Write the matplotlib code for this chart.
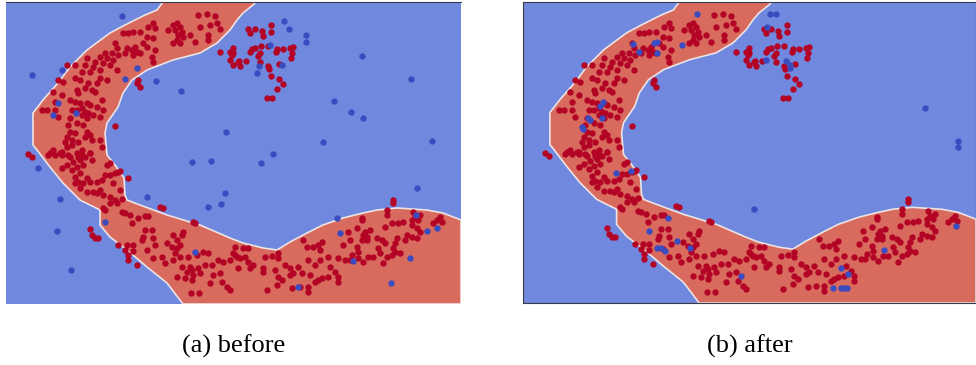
import numpy as np
import matplotlib.pyplot as plt

# boundary of the class-1 region (x, y), y grows downward
region_x = [163, 157, 145, 125, 110, 87, 70, 58, 43, 33, 33, 37, 50, 63, 80, 100, 100, 110, 127, 147, 167, 183,
            461, 461, 443, 427, 397, 377, 363, 343, 323, 307, 290, 277, 263, 243, 230, 200, 167, 140, 127, 125,
            124, 115, 107, 105, 107, 118, 123, 132, 147, 173, 200, 217, 230, 237, 243, 253, 256]
region_y = [2, 10, 15, 25, 33, 50, 67, 83, 100, 113, 145, 150, 167, 183, 200, 210, 225, 237, 250, 267, 283, 304,
            304, 220, 213, 210, 208, 210, 213, 218, 225, 233, 242, 250, 248, 243, 238, 225, 215, 205, 200, 195,
            178, 165, 155, 133, 123, 107, 93, 80, 70, 60, 53, 43, 30, 20, 13, 5, 2]

red_pts = [
    (173,25),(177,23),(180,27),(175,30),(182,32),(178,35),(183,37),(177,40),(180,43),(173,43),(198,15),(207,14),
    (215,16),(210,25),(217,23),(220,29),(200,27),(190,35),(195,42),(208,35),(208,40),(153,23),(148,27),(155,28),
    (168,30),(123,33),(128,33),(133,32),(140,32),(147,37),(153,38),(143,43),(135,47),(132,50),(137,52),(127,48),
    (125,53),(133,55),(140,53),(147,47),(155,50),(152,57),(153,62),(115,43),(117,48),(112,53),(118,55),(105,53),
    (100,57),(107,58),(113,60),(110,65),(117,70),(103,63),(95,62),(93,67),(100,70),(87,58),(85,65),(82,72),
    (90,72),(100,78),(107,80),(97,83),(88,83),(80,80),(75,78),(77,90),(85,88),(92,90),(95,92),(78,93),(67,65),
    (75,65),(58,80),(63,82),(53,92),(62,95),(55,102),(47,110),(42,110),(55,110),(58,117),(70,100),(75,102),
    (80,103),(87,103),(90,105),(82,108),(85,112),(88,113),(93,115),(100,117),(103,110),(97,107),(102,100),
    (77,110),(72,110),(82,115),(87,118),(70,118),(77,123),(68,125),(83,125),(70,132),(75,133),(67,137),(72,140),
    (65,142),(72,145),(67,147),(78,142),(85,137),(90,135),(87,132),(92,140),(100,140),(102,147),(82,150),
    (90,153),(62,152),(53,150),(48,155),(55,155),(62,155),(70,157),(78,157),(85,157),
    (115,126),(138,80),(140,87),(137,83),(28,154),(32,157),
    (220,52),(230,52),(232,55),(233,65),(238,62),(230,60),
    (248,29),(250,33),(255,29),(262,31),(263,36),(271,25),(271,32),(261,46),(268,46),(252,49),(250,52),(255,48),
    (260,53),(258,56),(277,49),(276,52),(283,49),(290,48),(293,47),(292,53),(291,58),(246,61),(239,61),(240,66),
    (260,62),(268,66),(269,69),(279,64),(271,76),(279,79),(283,84),(277,89),(267,98),(272,98),(233,48),(233,53),
    (50,153),(60,153),(68,155),(77,153),(82,155),(90,153),(92,160),(80,160),(73,162),(67,165),(62,168),(77,167),
    (83,165),(72,170),(80,173),(75,177),(87,178),(78,182),(83,183),(90,182),(75,183),(80,188),(87,192),(93,192),
    (97,182),(102,180),(107,165),(110,163),(105,175),(110,175),(115,173),(118,172),(120,171),(128,178),(113,183),
    (120,190),(100,190),(97,193),(103,195),(110,197),(115,200),(122,199),(117,203),(110,203),(103,208),(105,210),
    (122,212),(125,213),(130,215),(138,218),(145,216),(148,216),(132,223),(145,230),(152,230),(143,237),(153,238),
    (142,240),(147,250),(155,245),(160,207),(163,208),(173,235),(177,240),(167,243),(172,247),(177,248),(180,245),
    (183,232),(182,235),(193,222),(195,223),(90,229),(92,235),(95,238),(98,238),(118,245),(127,245),(133,245),
    (125,250),(128,255),(133,251),(128,260),(137,265),(153,258),(162,257),(165,263),(173,260),(175,253),(180,257),
    (188,257),(197,255),(203,252),(208,253),(182,267),(190,267),(192,270),(187,272),(193,275),(198,268),(200,273),
    (205,265),(212,265),(218,260),(223,262),(230,260),(233,253),(237,257),(213,275),(220,273),(210,283),(222,282),
    (227,287),(230,290),(191,293),(199,293),(177,277),(185,278),(192,280),
    (235,247),(243,248),(248,248),(235,255),(240,258),(245,257),(248,262),(253,265),(238,268),(250,268),
    (263,268),(265,257),(272,256),(278,253),(278,258),(263,272),(275,270),(285,265),(290,268),(293,273),(298,267),
    (302,273),(290,275),(278,277),(282,280),(277,285),(292,288),(300,287),(308,287),(308,292),(315,282),(318,280),
    (322,278),(310,275),(315,265),(308,260),(320,260),(328,257),(330,267),(335,272),(338,277),(338,282),(328,277),
    (338,258),(345,260),(303,240),(307,247),(313,247),(318,245),(322,242),(320,250),(267,290),(343,245),(348,232),
    (350,240),(357,228),(362,220),(357,247),(358,252),(352,255),(350,260),(358,258),(363,262),(368,257),(365,232),
    (367,237),(363,235),(370,230),(362,240),(367,240),(377,238),(382,240),(385,243),(373,257),(380,253),(387,257),
    (392,255),(383,263),(378,248),(393,248),(395,243),(397,238),(395,252),(400,253),(387,210),(387,215),(385,227),
    (392,223),(398,223),(403,222),(412,220),(413,212),(415,217),(418,220),(420,215),(412,225),(417,228),(420,232),
    (407,235),(412,237),(417,238),(405,240),(433,223),(437,220),(440,217),(442,222),(393,200),(393,203),(362,218),
]

blue_before = [
    (122,16),(32,75),(62,70),(137,68),(125,79),(156,81),(181,91),(58,103),(53,115),(76,113),(226,132),
    (284,21),(289,29),(306,35),(306,42),(270,45),(259,66),(257,73),(282,65),(362,56),(411,79),(334,101),
    (351,112),(363,118),(323,142),(273,154),(432,141),
    (38,168),(60,199),(57,231),(71,270),(105,222),(147,197),(192,162),(211,161),(208,207),(221,204),(225,193),
    (195,252),(261,163),(417,188),(337,218),(340,233),(353,261),(416,215),(427,231),(437,228),(410,258),
    (391,283),(298,287),
]

blue_after = [
    (181,14),(116,44),(123,52),(138,43),(141,42),(141,53),(166,45),(86,102),(83,106),(85,118),(73,120),(71,118),
    (65,127),(66,129),(254,14),(260,14),(251,27),(250,60),(270,61),(274,65),(274,68),(410,108),(443,141),
    (443,147),(99,174),(114,172),(152,219),(133,232),(161,242),(141,249),(145,249),(149,252),(174,249),(225,277),
    (238,210),(369,251),(325,269),(332,275),(317,289),(325,289),(328,289),(331,289),(441,227),
]

captions = ["(a) before", "(b) after"]

bg_blue = "#7088de"
bg_red = "#d86a5e"
pt_red = "#b40426"
pt_blue = "#3b4cc0"

fig = plt.figure(figsize=(9.76, 3.65), dpi=100)
axes = [fig.add_axes([6/976, 61/365, 455/976, 302/365]),
        fig.add_axes([523/976, 62/365, 453/976, 301/365])]

red = np.array(red_pts)
for i, (ax, blues, cap) in enumerate(zip(axes, [blue_before, blue_after], captions)):
    ax.set_facecolor(bg_blue)
    ax.fill(region_x, region_y, facecolor=bg_red, edgecolor="#ece4e4", linewidth=1.2, zorder=1)
    b = np.array(blues)
    ax.scatter(red[:, 0], red[:, 1], s=21, c=pt_red, linewidths=0, zorder=2)
    ax.scatter(b[:, 0], b[:, 1], s=21, c=pt_blue, linewidths=0, zorder=3)
    ax.set_xlim(6, 461)
    ax.set_ylim(304, 2)
    ax.set_xticks([])
    ax.set_yticks([])
    for name, sp in ax.spines.items():
        sp.set_color("#3a3a4a")
        sp.set_linewidth(0.8)
        # the left panel only keeps its top frame line
        if i == 0 and name != "top":
            sp.set_visible(False)
    pos = ax.get_position()
    fig.text((pos.x0 + pos.x1) / 2, 0.052, cap, ha="center", va="center",
             family="Liberation Serif", fontsize=19)

fig.savefig("out.png", dpi=100)
